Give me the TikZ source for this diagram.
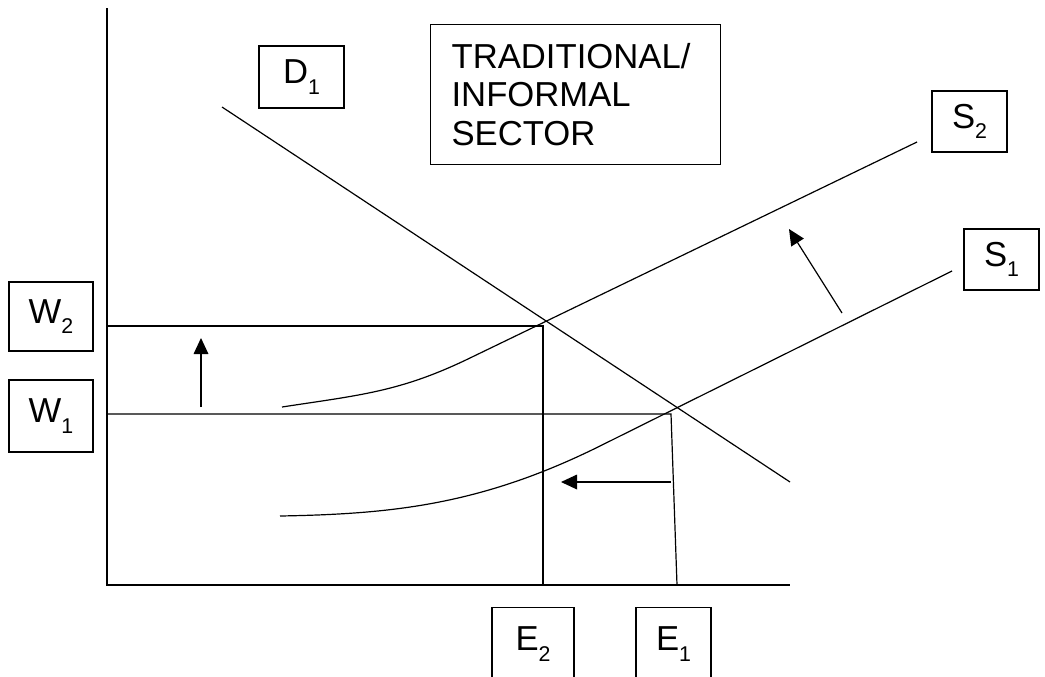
\documentclass[tikz,border=0pt]{standalone}
\usepackage{fontspec}
\setmainfont{Liberation Sans}
\usetikzlibrary{arrows.meta}
\newcommand{\lab}[2]{#1\raisebox{-0.3em}{\fontsize{16}{16}\selectfont #2}}

\begin{document}
\begin{tikzpicture}[x=0.75pt, y=-0.75pt, line width=0.9pt,
  box/.style={draw, line width=0.9pt, inner sep=0pt, font=\fontsize{26}{29}\selectfont},
  shiftarrow/.style={-{Triangle[length=12pt,width=11pt]}}]
\clip (0,0) rectangle (1045,676);
% Nodes
\node[box, minimum width=63.75pt, minimum height=46.5pt] (d1) at (301.5,77) {\lab{D}{1}};
\node[box, anchor=north west, text width=186pt, inner xsep=15.75pt, minimum height=105pt, align=left] (sector) at (430,24) {TRADITIONAL/\\INFORMAL\\SECTOR};
\node[box, minimum width=56.25pt, minimum height=45.75pt] (s2) at (969.5,121.5) {\lab{S}{2}};
\node[box, minimum width=56.25pt, minimum height=45.75pt] (s1) at (1001.5,259.5) {\lab{S}{1}};
\node[box, minimum width=63pt, minimum height=51.75pt] (w2) at (51,316.5) {\lab{W}{2}};
\node[box, minimum width=63pt, minimum height=54pt] (w1) at (51,416) {\lab{W}{1}};
\node[box, anchor=north, minimum width=61.5pt, text height=18.5pt, text depth=16pt, inner ysep=14pt] (e2) at (533,607) {\lab{E}{2}};
\node[box, anchor=north, minimum width=56.25pt, text height=18.5pt, text depth=16pt, inner ysep=14pt] (e1) at (673.5,607) {\lab{E}{1}};
% Points
\coordinate (o) at (107,585);
\coordinate (ytop) at (107,8);
\coordinate (xend) at (790,585);
\coordinate (dA) at (222,107);
\coordinate (dB) at (790,482);
\coordinate (s2A) at (282,407);
\coordinate (s2K) at (470,358);
\coordinate (s2B) at (917,142);
\coordinate (s1A) at (280,516);
\coordinate (s1K) at (600,446);
\coordinate (s1B) at (952,271);
\coordinate (w2L) at (107,326);
\coordinate (w2R) at (543,326);
\coordinate (e2B) at (543,585);
\coordinate (w1L) at (107,414);
\coordinate (w1R) at (671,414);
\coordinate (e1B) at (677,585);
% Edges
  \draw (ytop) -- (o) -- (xend);
  \draw (dA) -- (dB);
  \draw (s2A) .. controls (360,395) and (400,392) .. (s2K) -- (s2B);
  \draw (s1A) .. controls (390,514) and (480,505.6) .. (s1K) -- (s1B);
  \draw (w2L) -- (w2R) -- (e2B);
  \draw (w1L) -- (w1R) -- (e1B);
% Shifts
  \draw[shiftarrow] (201,407) coordinate (upA) -- (201,338) coordinate (upB);
  \draw[shiftarrow] (671,482) coordinate (leftA) -- (561,482) coordinate (leftB);
  \draw[shiftarrow] (842,313) coordinate (diagA) -- (789,229) coordinate (diagB);
\end{tikzpicture}
\end{document}
